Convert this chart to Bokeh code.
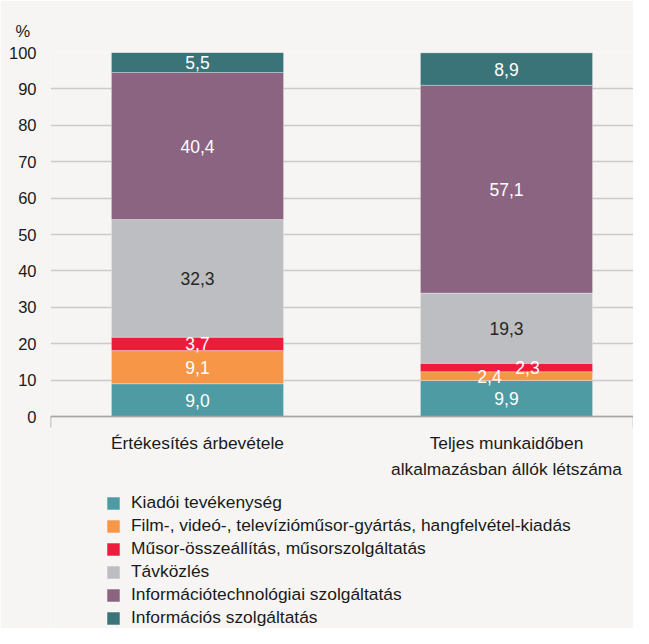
from bokeh.plotting import figure
from bokeh.models import ColumnDataSource, Range1d, FixedTicker, Legend, LegendItem
from bokeh.core.properties import value
from bokeh.embed import file_html
from bokeh.resources import INLINE

# ---- data ----
categories = ["Értékesítés árbevétele", "Teljes munkaidőben\nalkalmazásban állók létszáma"]
cat_pos = [1, 2]
series_names = [
    "Kiadói tevékenység",
    "Film-, videó-, televízióműsor-gyártás, hangfelvétel-kiadás",
    "Műsor-összeállítás, műsorszolgáltatás",
    "Távközlés",
    "Információtechnológiai szolgáltatás",
    "Információs szolgáltatás",
]
kiadoi = [9.0, 9.9]
film = [9.1, 2.4]
musor = [3.7, 2.3]
tavkozles = [32.3, 19.3]
infotech = [40.4, 57.1]
informacios = [5.5, 8.9]
y_ticks = [0, 10, 20, 30, 40, 50, 60, 70, 80, 90, 100]

series_values = [kiadoi, film, musor, tavkozles, infotech, informacios]
colors = ["#4f9ba3", "#f79646", "#ee1b3d", "#bdbec1", "#8b6482", "#3a7479"]
label_colors = ["#ffffff", "#ffffff", "#ffffff", "#262626", "#ffffff", "#ffffff"]
# horizontal nudges (px) for the two thin segments of the 2nd bar: (bar, series)
label_dx = {(1, 1): -17, (1, 2): 21}

FONT = "Liberation Sans"
BG = "#f6f5f3"
TXT = "#1a1a1a"

keys = ["s%d" % i for i in range(len(series_names))]
data = {"x": cat_pos}
for k, vals in zip(keys, series_values):
    data[k] = vals
src = ColumnDataSource(data)

# frame spans to the bottom of the canvas; 100 units = 364 px
p = figure(width=633, height=628, output_backend="svg", toolbar_location=None,
           x_range=Range1d(0.5243, 2.411), y_range=Range1d(-58.24, 100),
           min_border_left=50, min_border_right=0, min_border_top=52,
           min_border_bottom=0, background_fill_color=BG,
           border_fill_color=BG, outline_line_color=None)

renderers = p.vbar_stack(keys, x="x", width=0.557, color=colors, source=src,
                         line_color="white", line_alpha=0.3, line_width=1)

lx, ly, lt, lc, ldx = [], [], [], [], []
for j, xpos in enumerate(cat_pos):
    bottom = 0.0
    for i, vals in enumerate(series_values):
        v = vals[j]
        lx.append(xpos)
        ly.append(bottom + v / 2)
        lt.append(("%.1f" % v).replace(".", ","))
        lc.append(label_colors[i])
        ldx.append(label_dx.get((j, i), 0))
        bottom += v
lsrc = ColumnDataSource(dict(x=lx, y=ly, t=lt, c=lc, dx=ldx))
p.text(x="x", y="y", text="t", source=lsrc, text_color="c", x_offset="dx",
       text_align="center", text_baseline="middle",
       text_font=value(FONT), text_font_size="17.5px")

# x axis drawn at y = 0
p.xaxis.fixed_location = 0
p.xaxis.ticker = FixedTicker(ticks=cat_pos, minor_ticks=[0.5245, 2.4105])
p.xaxis.major_label_overrides = {cp: c for cp, c in zip(cat_pos, categories)}
p.xaxis.major_tick_line_color = None
p.xaxis.major_tick_out = 0
p.xaxis.major_tick_in = 0
p.xaxis.minor_tick_out = 11
p.xaxis.minor_tick_in = 0
p.xaxis.minor_tick_line_color = "#a6a6a6"
p.xaxis.minor_tick_line_width = 1.5
p.xaxis.axis_line_color = "#a6a6a6"
p.xaxis.axis_line_width = 1.5
p.xaxis.major_label_standoff = 5
p.xaxis.major_label_text_font = FONT
p.xaxis.major_label_text_font_size = "17.4px"
p.xaxis.major_label_text_color = TXT
p.xaxis.major_label_text_line_height = 1.3

p.yaxis.ticker = FixedTicker(ticks=y_ticks)
p.yaxis.axis_line_color = None
p.yaxis.major_tick_line_color = None
p.yaxis.major_tick_out = 0
p.yaxis.major_tick_in = 0
p.yaxis.minor_tick_line_color = None
p.yaxis.major_label_standoff = 14
p.yaxis.major_label_text_font = FONT
p.yaxis.major_label_text_font_size = "16.5px"
p.yaxis.major_label_text_color = TXT

p.xgrid.grid_line_color = None
p.ygrid.ticker = FixedTicker(ticks=y_ticks)
p.ygrid.grid_line_color = "#cbcbcb"
p.ygrid.grid_line_width = 1.5

p.title.text = "%"
p.title.align = "left"
p.title.offset = -35
p.title.standoff = 25
p.title.text_font = FONT
p.title.text_font_size = "16.5px"
p.title.text_font_style = "normal"
p.title.text_color = TXT

legend = Legend(items=[LegendItem(label=n, renderers=[r]) for n, r in zip(series_names, renderers)],
                location=(55, 0), orientation="vertical",
                label_text_font=FONT, label_text_font_size="17.4px", label_text_color=TXT,
                glyph_width=16, glyph_height=16, label_standoff=10, label_height=19,
                spacing=2, padding=0, margin=0,
                background_fill_alpha=0, border_line_alpha=0)
p.add_layout(legend)

open("out.html", "w").write(file_html(p, INLINE))
